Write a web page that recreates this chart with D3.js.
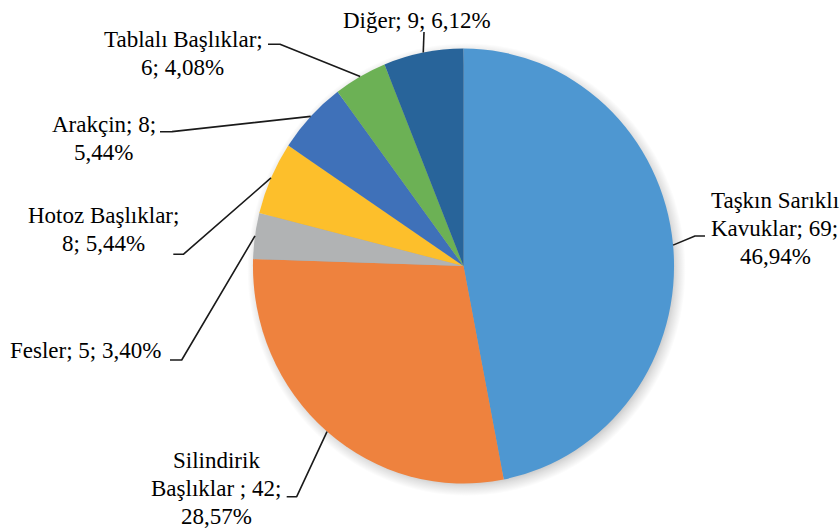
<!DOCTYPE html>
<html>
<head>
<meta charset="utf-8">
<script src="https://cdn.jsdelivr.net/npm/d3@7/dist/d3.min.js"></script>
</head>
<body style="margin:0">
<svg id="chart" width="840" height="530"></svg>
<script>
// Headgear types and their counts
const categories = [
  "Taşkın Sarıklı Kavuklar",
  "Silindirik Başlıklar",
  "Fesler",
  "Hotoz Başlıklar",
  "Arakçin",
  "Tablalı Başlıklar",
  "Diğer"
];
const values = [69, 42, 5, 8, 8, 6, 9];

// Label text lines ({v} = count, {p} = percentage)
const labelLines = [
  ["Taşkın Sarıklı", "Kavuklar; {v};", "{p}"],
  ["Silindirik", "Başlıklar ; {v};", "{p}"],
  ["Fesler; {v}; {p}"],
  ["Hotoz Başlıklar;", "{v}; {p}"],
  ["Arakçin; {v};", "{p}"],
  ["Tablalı Başlıklar;", "{v}; {p}"],
  ["Diğer; {v}; {p}"]
];

const colors = ["#4e97d1", "#ee823e", "#b1b3b4", "#fdbf2b", "#3f71b9", "#6cb155", "#28649a"];

// Label placement: text centre x, first baseline y, leader elbow points
const labelLayout = [
  { x: 775, y: 208, leader: [[695, 236], [705, 236]] },
  { x: 216, y: 468, leader: [[296.7, 496.7], [286.7, 496.7]] },
  { x: 86, y: 358, leader: [[181.7, 360], [170, 360]] },
  { x: 104, y: 223, leader: [[183.3, 254.3], [173.3, 254.3]] },
  { x: 104, y: 132, leader: [[172, 131.6], [160, 131.7]] },
  { x: 183, y: 47, leader: [[280, 44.3], [268, 44.3]] },
  { x: 417, y: 28, leader: [[424, 32]] }
];

const cx = 463.5, cy = 266;
const R = 217.5;          // vertical radius
const sx = 0.968;         // horizontal squash of the pie
const lineH = 28;

const total = d3.sum(values);
const fmtPct = v => d3.format(".2f")(v / total * 100).replace(".", ",") + "%";

const svg = d3.select("#chart");

// Soft shadow under the pie: an ellipse whose fill fades out at the rim
const defs = svg.append("defs");
const grad = defs.append("radialGradient").attr("id", "pieShade");
grad.append("stop").attr("offset", "0.9").attr("stop-color", "#000").attr("stop-opacity", 0.35);
grad.append("stop").attr("offset", "0.96").attr("stop-color", "#000").attr("stop-opacity", 0.12);
grad.append("stop").attr("offset", "1").attr("stop-color", "#000").attr("stop-opacity", 0);

svg.append("ellipse")
  .attr("cx", cx + 3).attr("cy", cy + 3.5)
  .attr("rx", sx * (R + 9)).attr("ry", R + 9)
  .attr("fill", "url(#pieShade)");

const pie = d3.pie().sort(null).value(d => d)(values);
const arc = d3.arc().innerRadius(0).outerRadius(R);

const pieG = svg.append("g")
  .attr("transform", `translate(${cx},${cy}) scale(${sx},1)`);

pieG.selectAll("path.slice")
  .data(pie)
  .join("path")
  .attr("class", "slice")
  .attr("d", arc)
  .attr("fill", (d, i) => colors[i]);

// Point on the pie rim at the slice's middle angle (in page coordinates)
function rimPoint(d) {
  const a = (d.startAngle + d.endAngle) / 2;
  return [cx + sx * R * Math.sin(a), cy - R * Math.cos(a)];
}

const line = d3.line();
const leaderG = svg.append("g");
pie.forEach((d, i) => {
  const pts = [rimPoint(d)].concat(labelLayout[i].leader);
  leaderG.append("path")
    .attr("d", line(pts))
    .attr("fill", "none")
    .attr("stroke", "#1a1a1a")
    .attr("stroke-width", 1.6)
    .attr("stroke-linejoin", "round");
});

// Labels: each line centred on its label's x by measuring the rendered width
pie.forEach((d, i) => {
  const lay = labelLayout[i];
  labelLines[i].forEach((ln, k) => {
    const t = svg.append("text")
      .attr("x", lay.x)
      .attr("y", lay.y + k * lineH)
      .style("font-family", '"Liberation Serif"')
      .attr("font-size", 23)
      .text(ln.replace("{v}", values[i]).replace("{p}", fmtPct(values[i])));
    const w = t.node().getComputedTextLength();
    t.attr("x", Math.round(lay.x - w / 2));
  });
});
</script>
</body>
</html>
